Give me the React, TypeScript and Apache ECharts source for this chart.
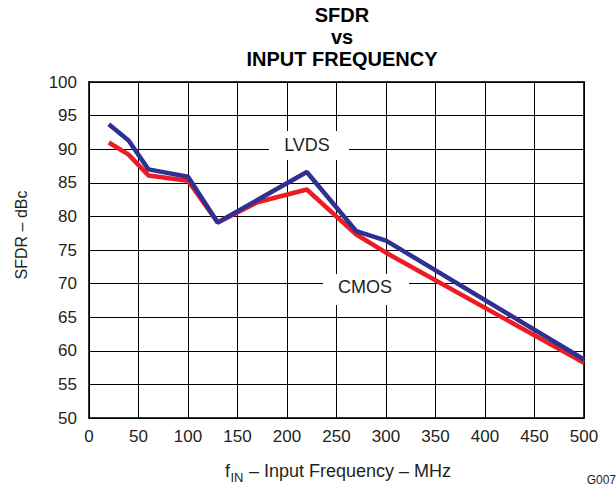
import React, { useEffect, useRef } from "react";
import * as echarts from "echarts";

const xTicks = [0, 50, 100, 150, 200, 250, 300, 350, 400, 450, 500];
const yTicks = [50, 55, 60, 65, 70, 75, 80, 85, 90, 95, 100];

const lvdsFreq = [20, 40, 60, 100, 130, 220, 270, 300, 500];
const lvdsSfdr = [93.7, 91.3, 87.0, 85.9, 79.1, 86.6, 77.8, 76.4, 58.7];

const cmosFreq = [20, 40, 60, 100, 130, 170, 220, 270, 300, 500];
const cmosSfdr = [91.0, 89.2, 86.1, 85.3, 79.1, 82.1, 84.0, 77.3, 74.6, 58.2];

const FONT = "'Liberation Sans', Arial, Helvetica, sans-serif";
const TXT = "#231f20";

export default function App() {
  const ref = useRef<HTMLDivElement>(null);
  useEffect(() => {
    document.body.style.margin = "0";
    const chart = echarts.init(ref.current!, null, { renderer: "svg" });
    const lvds = lvdsFreq.map((f, i) => [f, lvdsSfdr[i]]);
    const cmos = cmosFreq.map((f, i) => [f, cmosSfdr[i]]);
    chart.setOption({
      animation: false,
      backgroundColor: "#ffffff",
      textStyle: { fontFamily: FONT },
      grid: {
        left: 89,
        right: 32,
        top: 82,
        bottom: 70,
        show: true,
        borderColor: "#333333",
        borderWidth: 2,
        backgroundColor: "transparent",
      },
      xAxis: {
        type: "value",
        min: xTicks[0],
        max: xTicks[xTicks.length - 1],
        interval: 50,
        axisLine: { show: false },
        axisTick: { show: false },
        axisLabel: { fontSize: 17, color: TXT, margin: 10, fontFamily: FONT },
        splitLine: { show: true, lineStyle: { color: "#000000", width: 1 } },
      },
      yAxis: {
        type: "value",
        min: yTicks[0],
        max: yTicks[yTicks.length - 1],
        interval: 5,
        axisLine: { show: false },
        axisTick: { show: false },
        axisLabel: { fontSize: 17, color: TXT, margin: 12, fontFamily: FONT },
        splitLine: { show: true, lineStyle: { color: "#000000", width: 1 } },
      },
      series: [
        {
          name: "CMOS",
          type: "line",
          data: cmos,
          symbol: "none",
          lineStyle: { color: "#ed1c24", width: 4.5 },
          z: 3,
        },
        {
          name: "LVDS",
          type: "line",
          data: lvds,
          symbol: "none",
          lineStyle: { color: "#2e3192", width: 4.5 },
          z: 4,
        },
      ],
      graphic: [
        { type: "text", x: 342, y: 14.5, style: { text: "SFDR", font: `bold 20px ${FONT}`, fill: "#000", textAlign: "center", textVerticalAlign: "middle" } },
        { type: "text", x: 342, y: 36.5, style: { text: "vs", font: `bold 20px ${FONT}`, fill: "#000", textAlign: "center", textVerticalAlign: "middle" } },
        { type: "text", x: 342, y: 58.5, style: { text: "INPUT FREQUENCY", font: `bold 20px ${FONT}`, fill: "#000", textAlign: "center", textVerticalAlign: "middle" } },
        { type: "rect", shape: { x: 269, y: 131, width: 80, height: 29 }, style: { fill: "#ffffff" }, z: 10 },
        { type: "text", x: 307, y: 145, z: 11, style: { text: "LVDS", font: `18px ${FONT}`, fill: TXT, textAlign: "center", textVerticalAlign: "middle" } },
        { type: "rect", shape: { x: 323, y: 274, width: 86, height: 31 }, style: { fill: "#ffffff" }, z: 10 },
        { type: "text", x: 365, y: 287, z: 11, style: { text: "CMOS", font: `18px ${FONT}`, fill: TXT, textAlign: "center", textVerticalAlign: "middle" } },
        { type: "text", x: 21, y: 235, rotation: Math.PI / 2, style: { text: "SFDR – dBc", font: `16px ${FONT}`, fill: TXT, textAlign: "center", textVerticalAlign: "middle" } },
        { type: "text", x: 225, y: 471, style: { text: "f", font: `18px ${FONT}`, fill: TXT, textAlign: "left", textVerticalAlign: "middle" } },
        { type: "text", x: 230.5, y: 477, style: { text: "IN", font: `13px ${FONT}`, fill: TXT, textAlign: "left", textVerticalAlign: "middle" } },
        { type: "text", x: 244, y: 471, style: { text: " – Input Frequency – MHz", font: `18px ${FONT}`, fill: TXT, textAlign: "left", textVerticalAlign: "middle" } },
        { type: "text", x: 616, y: 480, style: { text: "G007", font: `12px ${FONT}`, fill: TXT, textAlign: "right", textVerticalAlign: "middle" } },
      ],
    });
    return () => chart.dispose();
  }, []);
  return <div ref={ref} style={{ width: 616, height: 488 }} />;
}
